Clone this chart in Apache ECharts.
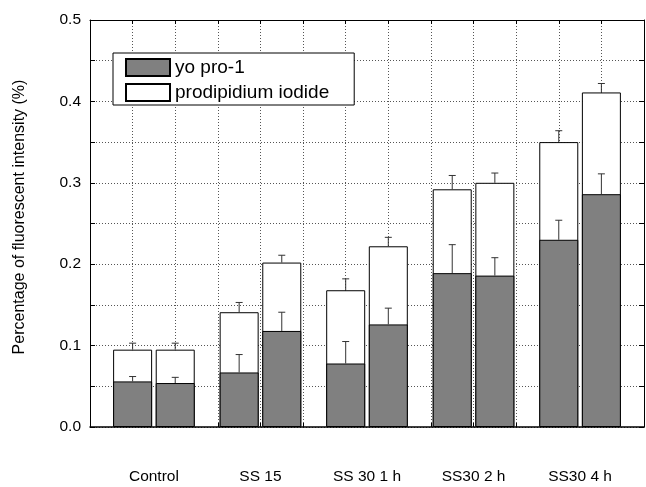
<!DOCTYPE html>
<html>
<head>
<meta charset="utf-8">
<script src="https://cdn.jsdelivr.net/npm/echarts@6/dist/echarts.min.js"></script>
<style>
  html, body { margin: 0; padding: 0; background: #fff; }
  #chart { width: 646px; height: 487px; }
</style>
</head>
<body>
<div id="chart"></div>
<script>
// groups and where they sit on the x scale
var groups = ['Control', 'SS 15', 'SS 30 1 h', 'SS30 2 h', 'SS30 4 h'];
var groupCenters = [1.5, 4, 6.5, 9, 11.5];
var barPos = [1, 2, 3.5, 4.5, 6, 7, 8.5, 9.5, 11, 12];

// yo pro-1 (grey, bottom) and its error
var yoPro = [0.056, 0.054, 0.067, 0.118, 0.078, 0.126, 0.189, 0.186, 0.230, 0.286];
var yoProErr = [0.006, 0.007, 0.022, 0.023, 0.027, 0.020, 0.035, 0.022, 0.024, 0.025];
// prodipidium iodide (white, stacked on top) and its error
var pi = [0.039, 0.041, 0.074, 0.084, 0.090, 0.096, 0.103, 0.114, 0.120, 0.125];
var piErr = [0.008, 0.008, 0.012, 0.009, 0.014, 0.011, 0.017, 0.012, 0.014, 0.011];

var yLabels = [0, 0.1, 0.2, 0.3, 0.4, 0.5];
var yTicks = [0, 0.05, 0.1, 0.15, 0.2, 0.25, 0.3, 0.35, 0.4, 0.45, 0.5];
var xTicks = [0, 1, 2, 3, 4, 5, 6, 7, 8, 9, 10, 11, 12, 13];

var font = 'Liberation Sans, Arial, sans-serif';

// top of the stack = grey + white
var totals = yoPro.map(function (v, i) { return v + pi[i]; });

function pairs(xs, ys) {
  return xs.map(function (x, i) { return [x, ys[i]]; });
}

var errYo = barPos.map(function (x, i) { return [x, yoPro[i], yoProErr[i]]; });
var errPi = barPos.map(function (x, i) { return [x, totals[i], piErr[i]]; });

// upward error bar with a small cap
function renderErr(params, api) {
  var base = api.coord([api.value(0), api.value(1)]);
  var top = api.coord([api.value(0), api.value(1) + api.value(2)]);
  var cap = 3.5;
  var st = { stroke: '#333', lineWidth: 1 };
  return {
    type: 'group',
    children: [
      { type: 'line', shape: { x1: base[0], y1: base[1], x2: top[0], y2: top[1] }, style: st },
      { type: 'line', shape: { x1: top[0] - cap, y1: top[1], x2: top[0] + cap, y2: top[1] }, style: st }
    ]
  };
}

var chart = echarts.init(document.getElementById('chart'));

var gridDots = { color: '#555', type: [1, 2], width: 1 };
var axisBlack = { color: '#000', width: 1 };

var option = {
  backgroundColor: '#fff',
  animation: false,
  textStyle: { fontFamily: font, color: '#000' },
  grid: { left: 90, right: 2, top: 20, bottom: 60, containLabel: false },
  legend: {
    orient: 'vertical',
    left: 113,
    top: 53,
    padding: [5, 25, 3, 12],
    itemGap: 6,
    itemWidth: 44,
    itemHeight: 17,
    backgroundColor: '#fff',
    borderColor: '#000',
    borderWidth: 1,
    icon: 'rect',
    textStyle: { fontSize: 19, color: '#000', fontFamily: font },
    data: ['yo pro-1', 'prodipidium iodide']
  },
  xAxis: [{
    type: 'value',
    min: 0,
    max: 13,
    interval: 1,
    position: 'bottom',
    axisLine: { onZero: false, lineStyle: { color: '#000', width: 1.5 } },
    axisTick: { inside: true, length: 4, customValues: xTicks, lineStyle: axisBlack },
    splitLine: { show: false },
    axisLabel: {
      customValues: groupCenters,
      margin: 42,
      fontSize: 15.5,
      color: '#000',
      fontFamily: font,
      formatter: function (v) {
        var k = groupCenters.indexOf(v);
        return k >= 0 ? groups[k] : '';
      }
    }
  }, {
    type: 'value',
    min: 0,
    max: 13,
    interval: 2,
    position: 'top',
    axisLine: { onZero: false, lineStyle: axisBlack },
    axisTick: { inside: true, length: 4, customValues: xTicks, lineStyle: axisBlack },
    splitLine: { show: true, lineStyle: gridDots },
    axisLabel: { show: false }
  }],
  yAxis: [{
    type: 'value',
    min: 0,
    max: 0.5,
    interval: 0.1,
    position: 'left',
    name: 'Percentage of fluorescent intensity (%)',
    nameLocation: 'middle',
    nameGap: 62,
    nameTextStyle: { fontSize: 16, color: '#000', fontFamily: font, padding: [0, 0, 0, 13] },
    axisLine: { show: true, onZero: false, lineStyle: axisBlack },
    axisTick: { show: true, inside: true, length: 5, customValues: yTicks, lineStyle: axisBlack },
    splitLine: { show: true, lineStyle: gridDots },
    axisLabel: {
      margin: 9,
      fontSize: 15.5,
      color: '#000',
      fontFamily: font,
      customValues: yLabels,
      formatter: function (v) { return v.toFixed(1); }
    }
  }, {
    type: 'value',
    min: 0,
    max: 0.5,
    interval: 0.1,
    position: 'right',
    axisLine: { show: true, onZero: false, lineStyle: axisBlack },
    axisTick: { show: true, inside: true, length: 5, customValues: yTicks, lineStyle: axisBlack },
    splitLine: { show: false },
    axisLabel: { show: false }
  }],
  series: [{
    name: 'prodipidium iodide',
    type: 'bar',
    barWidth: 39,
    barGap: '-100%',
    data: pairs(barPos, totals),
    itemStyle: { color: '#fff', borderColor: '#000', borderWidth: 1 },
    z: 2
  }, {
    name: 'yo pro-1',
    type: 'bar',
    barWidth: 39,
    barGap: '-100%',
    data: pairs(barPos, yoPro),
    itemStyle: { color: '#808080', borderColor: '#000', borderWidth: 1 },
    z: 3
  }, {
    type: 'custom',
    renderItem: renderErr,
    encode: { x: 0, y: 1 },
    data: errYo,
    z: 4,
    silent: true
  }, {
    type: 'custom',
    renderItem: renderErr,
    encode: { x: 0, y: 1 },
    data: errPi,
    z: 4,
    silent: true
  }]
};

chart.setOption(option);
</script>
</body>
</html>
